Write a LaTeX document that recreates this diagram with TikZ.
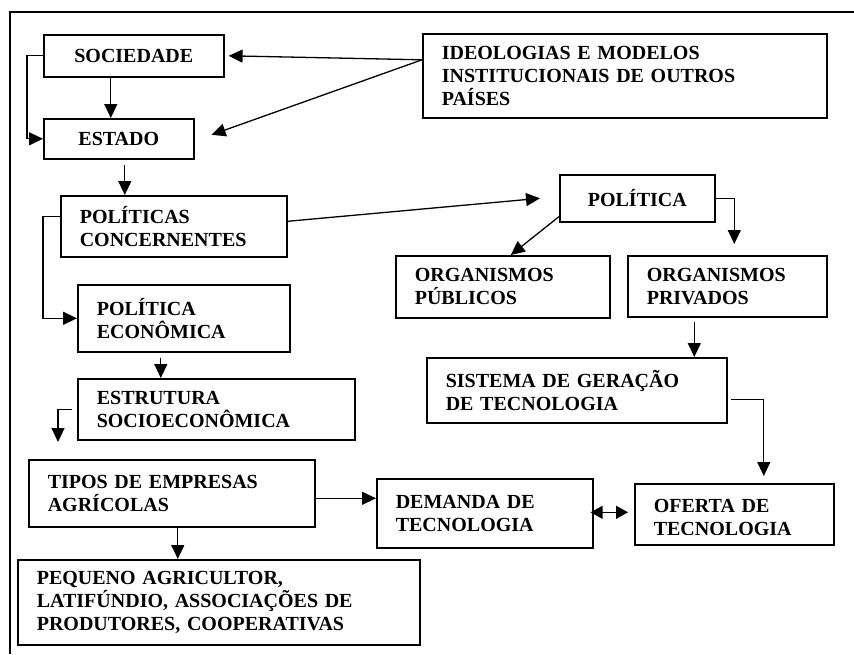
\documentclass[tikz,border=0pt]{standalone}
\usepackage{fontspec}
\setmainfont{Liberation Serif}
\usepackage{xcolor}
\usetikzlibrary{calc,arrows.meta}
\definecolor{ink}{HTML}{000000}
\definecolor{paper}{HTML}{FFFFFF}
\tikzset{
  box/.style={draw=ink, line width=1.6pt, inner sep=0pt, anchor=north west, text=ink,
    font=\fontsize{20}{23}\selectfont\bfseries},
  boxc/.style 2 args={box, minimum width=#1, minimum height=#2, align=center},
  boxl/.style 2 args={box, text width=#1, minimum height=#2, align=left, inner xsep=19pt},
  arr/.style={draw=ink, line width=1.3pt, -{Triangle[length=14pt,width=13pt]}},
  dbl/.style={draw=ink, line width=1.3pt, {Triangle[length=12pt,width=13pt]}-{Triangle[length=12pt,width=13pt]}},
  frame/.style={draw=ink, line width=1.4pt},
}
\begin{document}
\begin{tikzpicture}[x=1pt,y=-1pt]
  \useasboundingbox (0,0) rectangle (854,654);
  \draw[frame] (10,654) -- (10,12) -- (854,12);

  \node[boxc={180pt}{42pt}] (soc) at (43,34) {SOCIEDADE};
  \node[boxc={150pt}{40pt}] (est) at (43,118) {ESTADO};
  \node[boxl={366pt}{84pt}] (ideo) at (422,33) {IDEOLOGIAS E MODELOS\\INSTITUCIONAIS DE OUTROS\\PAÍSES};
  \node[boxl={188pt}{61pt}] (polc) at (60,195) {POLÍTICAS\\CONCERNENTES};
  \node[boxl={174pt}{67pt}] (pole) at (77,284) {POLÍTICA\\ECONÔMICA};
  \node[boxl={239pt}{61pt}] (estr) at (77,378) {ESTRUTURA\\SOCIOECONÔMICA};
  \node[boxl={248pt}{67pt}] (tipos) at (28,459) {TIPOS DE EMPRESAS\\AGRÍCOLAS};
  \node[boxl={364pt}{85pt}] (peq) at (17,559) {PEQUENO AGRICULTOR,\\LATIFÚNDIO, ASSOCIAÇÕES DE\\PRODUTORES, COOPERATIVAS};
  \node[boxc={155pt}{47pt}] (pol) at (559,174) {POLÍTICA};
  \node[boxl={176pt}{62pt}] (pub) at (395,255) {ORGANISMOS\\PÚBLICOS};
  \node[boxl={161pt}{61pt}] (priv) at (627,255) {ORGANISMOS\\PRIVADOS};
  \node[boxl={262pt}{65pt}] (sis) at (426,357) {SISTEMA DE GERAÇÃO\\DE TECNOLOGIA};
  \node[boxl={178pt}{69pt}] (dem) at (376,478) {DEMANDA DE\\TECNOLOGIA};
  \node[boxl={161pt}{61pt}, text height=20pt] (ofe) at (634,483) {OFERTA DE\\TECNOLOGIA};
  \fill[paper] ([xshift=2pt,yshift=2pt]ofe.south west) rectangle ([xshift=-2pt,yshift=11pt]ofe.south east);

  \coordinate (ideoout) at ([yshift=16pt]ideo.west);
  \draw[arr] (soc.west) -- ++(-16,0) |- (est.west);
  \draw[arr] ([xshift=-23pt]soc.south) -- ([xshift=-23pt]soc.south |- est.north);
  \draw[arr] (ideoout) -- ([xshift=4pt]soc.east);
  \draw[arr] (ideoout) -- ([xshift=17pt,yshift=4pt]est.east);
  \draw[arr] ([xshift=6pt,yshift=-5pt]est.south) -- ([xshift=6pt]est.south |- polc.north);
  \draw[arr] ([yshift=10pt]polc.west) -- ++(-17,0) |- (pole.west);
  \draw[arr] ([yshift=5pt]polc.east) -- ([xshift=-19pt]pol.west);
  \draw[arr] ([yshift=6pt]pol.south west) -- ([xshift=8pt]pub.north);
  \draw[arr] (pol.east) -| ([xshift=7pt,yshift=11pt]priv.north);
  \draw[arr] ([xshift=-33pt,yshift=-4pt]priv.south) -- ([xshift=-33pt]priv.south |- sis.north);
  \draw[arr] ([xshift=-23pt,yshift=-5pt]pole.south) -- ([xshift=-23pt]pole.south |- estr.north);
  \draw[arr] ([xshift=-5pt]estr.west) -| ([xshift=30pt,yshift=17pt]tipos.north west);
  \draw[arr] ([xshift=6pt]tipos.south) -- ([xshift=6pt]tipos.south |- peq.north);
  \draw[arr] ([yshift=-5pt]tipos.east) -- ([yshift=-5pt]tipos.east -| dem.west);
  \draw[dbl] ([xshift=-3pt,yshift=1pt]dem.east) -- ([xshift=-6pt,yshift=1pt]dem.east -| ofe.west);
  \draw[arr] ([xshift=3pt,yshift=-9pt]sis.east) -| ([xshift=29.5pt,yshift=7pt]ofe.north);
\end{tikzpicture}
\end{document}
